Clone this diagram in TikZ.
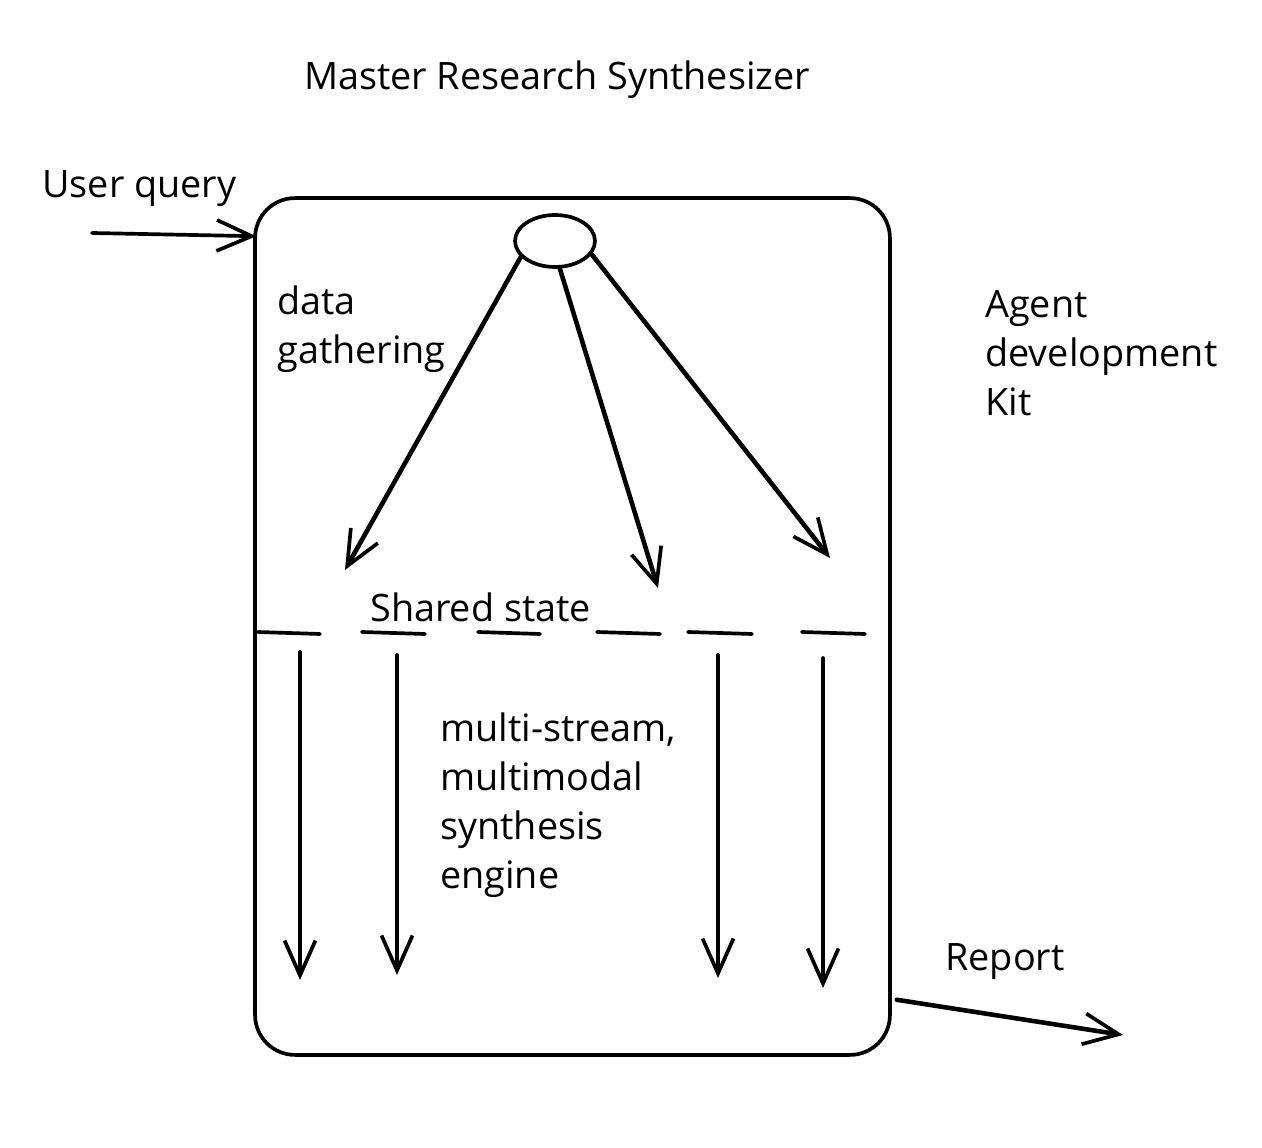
\documentclass[tikz,border=0pt]{standalone}
\usepackage{fontspec}
\setmainfont{Open Sans}
\usetikzlibrary{arrows.meta,positioning,calc,shapes.geometric}

\begin{document}
\begin{tikzpicture}[x=0.02cm,y=-0.02cm,
    every node/.style={font=\fontsize{21.5}{28}\selectfont,inner sep=0pt},
    hand/.style={line width=2.1pt,line cap=round,line join=round},
    arr/.style={hand,-{Straight Barb[length=0.7cm,width=0.62cm,line width=2.1pt]}},
    thickarr/.style={arr,line width=2.6pt}]
    \useasboundingbox (0,0) rectangle (1262,1148);

    %title and outer frame of the synthesizer
    \node (title) at (557,80) {Master Research Synthesizer};
    \node[hand,draw,rounded corners=0.8cm,minimum width=12.7cm,minimum height=17.14cm]
        (box) at (572.5,626.5) {};
    \node[hand,draw,ellipse,minimum width=1.6cm,minimum height=1.04cm] (hub) at (555,241) {};

    %side labels
    \node[anchor=base west] (query) at (42,198) {User query};
    \node[anchor=north west,align=left] (gather) at (277,285) {data\\gathering};
    \node[anchor=north west,align=left] (adk) at (985,290) {Agent\\development\\Kit};
    \node[anchor=base west] (report) at (945,970) {Report};

    %input and output
    \coordinate (qstart) at (92,233);
    \draw[arr] (qstart) -- ($(box.north west)+(3,40)$);
    \coordinate (rend) at (1123,1035);
    \draw[thickarr] ($(box.south east)+(5,-57)$) -- (rend);

    %data gathering fan out
    \coordinate (g1) at (345,570);
    \coordinate (g2) at (658,588);
    \coordinate (g3) at (830,558);
    \draw[thickarr] (hub.205) -- (g1);
    \draw[thickarr] (hub.280) -- (g2);
    \draw[thickarr] (hub.340) -- (g3);

    %shared state line
    \node[anchor=base west] (shared) at (370,622) {Shared state};
    \foreach \a/\b in {258/320,362/425,478/540,597/660,688/752,802/865}
        \draw[hand] (\a,632) -- (\b,634);

    %synthesis streams
    \foreach \x/\t/\e [count=\i] in {300/652/980,397/655/975,718/655/978,823/658/988}{
        \coordinate (s\i) at (\x,\t);
        \coordinate (e\i) at (\x,\e);
        \draw[arr] (s\i) -- (e\i);
    }
    \node[anchor=north west,align=left] (engine) at (440,712)
        {multi-stream,\\multimodal\\synthesis\\engine};
\end{tikzpicture}
\end{document}
